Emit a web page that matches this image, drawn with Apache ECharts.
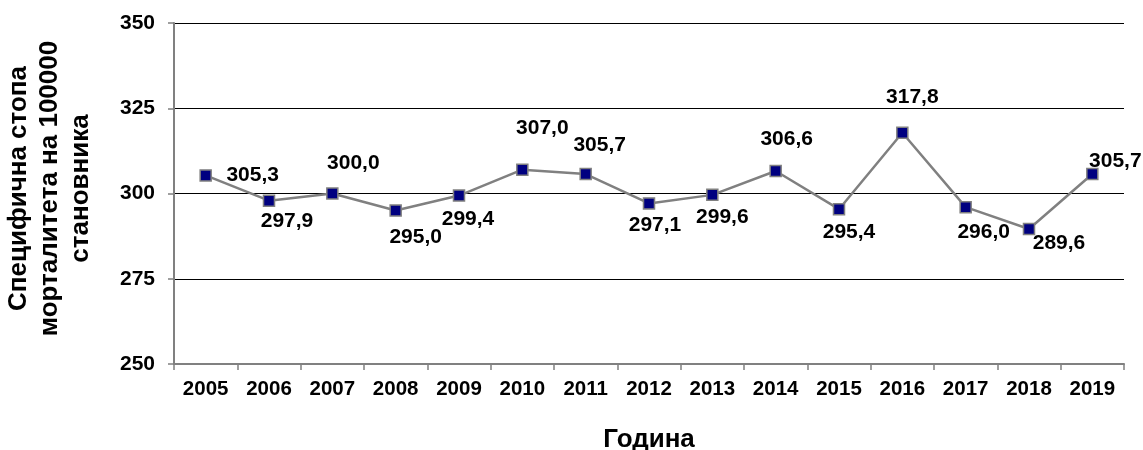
<!DOCTYPE html>
<html>
<head>
<meta charset="utf-8">
<script src="https://cdn.jsdelivr.net/npm/echarts@6/dist/echarts.min.js"></script>
<style>html,body{margin:0;padding:0;background:#fff}#c{width:1143px;height:450px}</style>
</head>
<body>
<div id="c"></div>
<script>
const years = ['2005','2006','2007','2008','2009','2010','2011','2012','2013','2014','2015','2016','2017','2018','2019'];
const rates = [305.3, 297.9, 300.0, 295.0, 299.4, 307.0, 305.7, 297.1, 299.6, 306.6, 295.4, 317.8, 296.0, 289.6, 305.7];
const yTicks = [250, 275, 300, 325, 350];
const yTitle = 'Специфична стопа\nморталитета на 100000\nстановника';
const xTitle = 'Година';

// label offsets (styling)
const labelOffsets = [[47,0],[18,21],[21,-30],[20,27],[9,24],[20,-41],[14,-29],[6,22],[10,22],[11,-32],[10,23],[10,-36],[18,25],[30,14],[23,-13]];

const FONT = '"Liberation Sans", Arial, sans-serif';
const chart = echarts.init(document.getElementById('c'));
chart.setOption({
  animation: false,
  backgroundColor: '#fff',
  grid: { left: 174, right: 19, top: 23, bottom: 86, containLabel: false, outerBoundsMode: 'none' },
  xAxis: {
    type: 'category',
    data: years,
    boundaryGap: true,
    name: xTitle,
    nameLocation: 'middle',
    nameGap: 63,
    nameTextStyle: { fontFamily: FONT, fontWeight: 'bold', fontSize: 26, color: '#000' },
    axisLine: { lineStyle: { color: '#808080', width: 2 } },
    axisTick: { show: true, alignWithLabel: false, length: 6, lineStyle: { color: '#808080', width: 1.5 } },
    axisLabel: { fontFamily: FONT, fontWeight: 'bold', fontSize: 20.5, color: '#000', margin: 15 },
    splitLine: { show: false }
  },
  yAxis: {
    type: 'value',
    min: yTicks[0],
    max: yTicks[yTicks.length - 1],
    interval: 25,
    name: yTitle,
    nameLocation: 'middle',
    nameRotate: 90,
    nameGap: 78,
    nameTextStyle: { fontFamily: FONT, fontWeight: 'bold', fontSize: 26, color: '#000', lineHeight: 31, padding: [0, 0, 0, 10] },
    axisLine: { show: true, lineStyle: { color: '#808080', width: 2 } },
    axisTick: { show: true, inside: false, length: 6, lineStyle: { color: '#808080', width: 1.5 } },
    axisLabel: { fontFamily: FONT, fontWeight: 'bold', fontSize: 21, color: '#000', margin: 19 },
    splitLine: { show: true, lineStyle: { color: '#000', width: 1 } }
  },
  series: [{
    type: 'line',
    data: rates.map((v, i) => ({
      value: v,
      label: { offset: labelOffsets[i] }
    })),
    symbol: 'rect',
    symbolSize: 11,
    lineStyle: { color: '#808080', width: 2.5 },
    itemStyle: { color: '#000080', borderColor: '#808080', borderWidth: 1.5 },
    label: {
      show: true,
      position: 'inside',
      align: 'center',
      verticalAlign: 'middle',
      fontFamily: FONT,
      fontWeight: 'bold',
      fontSize: 21,
      color: '#000',
      formatter: p => p.value.toFixed(1).replace('.', ',')
    },
    z: 5
  }]
});
</script>
</body>
</html>
